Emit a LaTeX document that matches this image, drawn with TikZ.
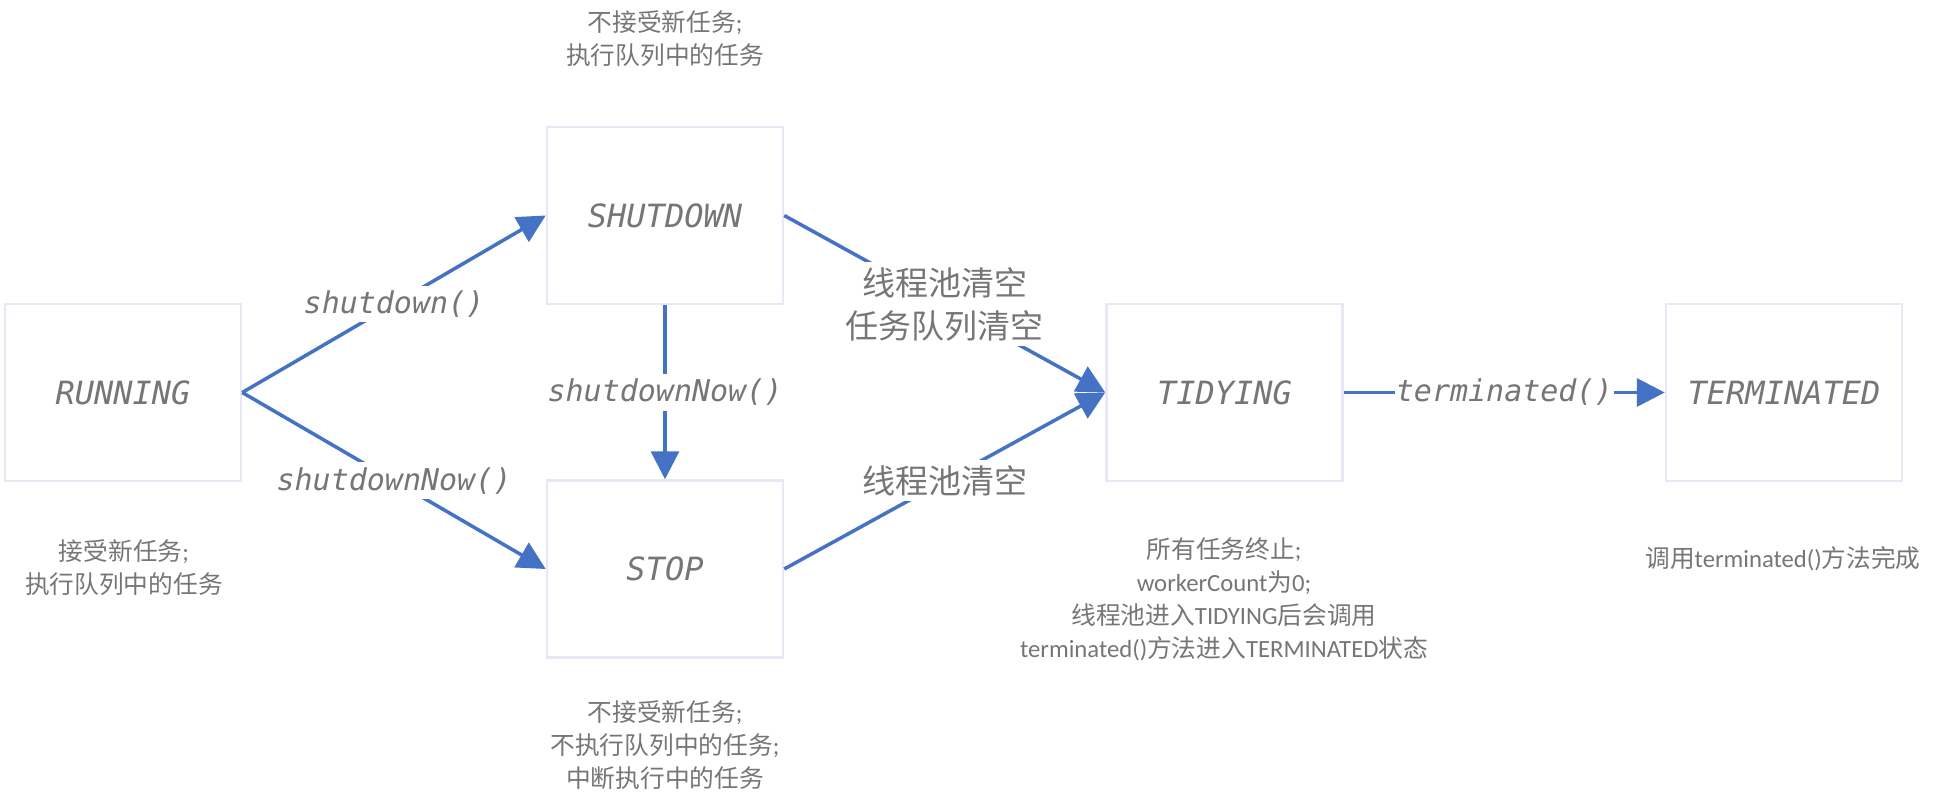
\documentclass[tikz,border=0pt]{standalone}
\usepackage{fontspec}
\setmainfont{Carlito}
\newfontfamily\cjk{Noto Sans CJK SC}
\newfontfamily\monof{DejaVu Sans Mono}
\usetikzlibrary{arrows.meta}
\definecolor{linec}{HTML}{4472C4}
\definecolor{boxc}{HTML}{E6E9F4}
\definecolor{txtc}{HTML}{767676}
\newcommand\zhc[1]{{\cjk #1}}
\begin{document}
\begin{tikzpicture}[x=1pt,y=-1pt,
  state/.style={draw=boxc, line width=2.5pt, minimum width=236pt, minimum height=177pt, inner sep=0pt, text=txtc, font=\monof\itshape\fontsize{32}{38}\selectfont},
  conn/.style={draw=linec, line width=3.5pt, -{Triangle[length=28pt,width=28pt]}},
  lbl/.style={fill=white, text=txtc, inner xsep=1pt, inner ysep=5pt, font=\monof\itshape\fontsize{30}{36}\selectfont},
  zlbl/.style={fill=white, text=txtc, inner xsep=1pt, inner ysep=5pt, align=center, font=\cjk\fontsize{33}{43}\selectfont},
  note/.style={text=txtc, align=center, inner sep=0pt, font=\fontsize{24.7}{33}\selectfont}]
\useasboundingbox[fill=white] (0,0) rectangle (1939,804);
\node[state] (run)  at (123,392.5)  {RUNNING};
\node[state] (shut) at (665,215.5)  {SHUTDOWN};
\node[state] (stop) at (665,569)    {STOP};
\node[state] (tid)  at (1224.5,392.5) {TIDYING};
\node[state] (term) at (1784,392.5) {TERMINATED};

\draw[conn] (run.east) -- node[lbl] (l1) {shutdown()} (shut.west);
\draw[conn] (run.east) -- node[lbl] (l2) {shutdownNow()} (stop.west);
\draw[conn] (shut.south) -- node[lbl] (l3) {shutdownNow()} (stop.north);
\draw[conn] (shut.east) -- node[zlbl] (l4) {线程池清空\\任务队列清空} (tid.west);
\draw[conn] (stop.east) -- node[zlbl] (l5) {线程池清空} (tid.west);
\draw[conn] (tid.east) -- node[lbl] (l6) {terminated()} (term.west);

\node[note] (n1) at (665,39) {\zhc{不接受新任务};\\\zhc{执行队列中的任务}};
\node[note] (n2) at (124,568) {\zhc{接受新任务};\\\zhc{执行队列中的任务}};
\node[note] (n3) at (665,745) {\zhc{不接受新任务};\\\zhc{不执行队列中的任务};\\\zhc{中断执行中的任务}};
\node[note] (n4) at (1224,599) {\zhc{所有任务终止};\\workerCount\zhc{为}0;\\\zhc{线程池进入}TIDYING\zhc{后会调用}\\terminated()\zhc{方法进入}TERMINATED\zhc{状态}};
\node[note] (n5) at (1783,559) {\zhc{调用}terminated()\zhc{方法完成}};
\end{tikzpicture}
\end{document}
